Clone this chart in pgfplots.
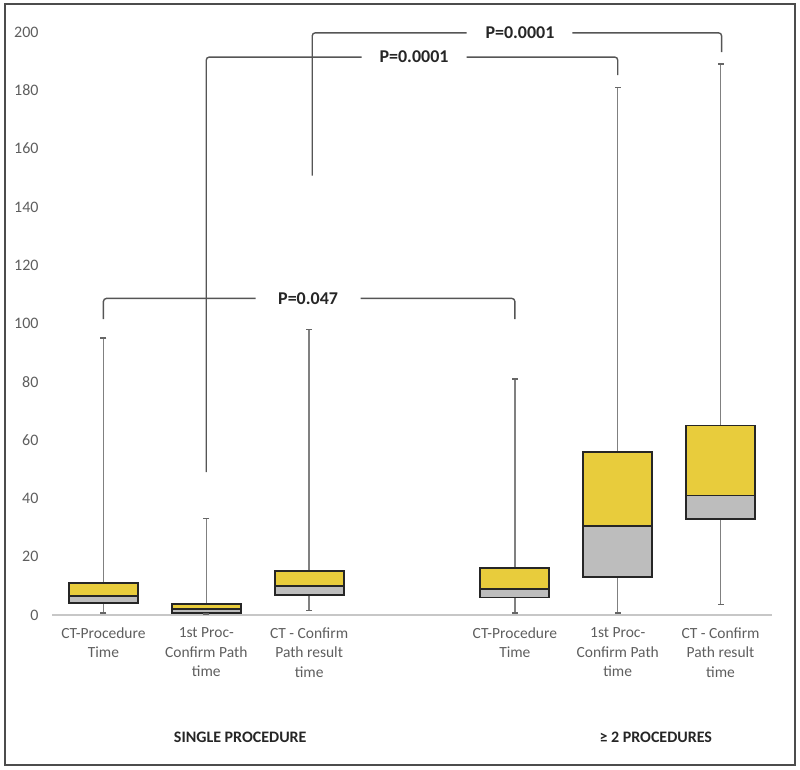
\documentclass[border=0pt]{standalone}
\usepackage{fontspec}
\setmainfont{Carlito}
\usepackage{pgfplots}
\pgfplotsset{compat=1.18}
\definecolor{boxyellow}{HTML}{E8CC3C}
\definecolor{boxgray}{HTML}{BDBDBD}
\definecolor{whisk}{HTML}{808080}
\definecolor{brk}{HTML}{555555}
\definecolor{lbl}{HTML}{5E5E5E}
\definecolor{boxline}{HTML}{262626}

\pgfplotsset{
  whisker/.style={draw=whisk, line width=1.5pt, mark=-, mark size=3pt, mark options={solid, draw=whisk!80!black, line width=1.3pt}},
  graybox/.style={draw=boxline, fill=boxgray, line width=1.9pt, line join=miter},
  yellowbox/.style={draw=boxline, fill=boxyellow, line width=1.9pt, line join=miter},
}

\begin{document}
\begin{tikzpicture}
\useasboundingbox (0pt,0pt) rectangle (800pt,770pt);
\draw[line width=1.8pt, color=black!70] (5pt,5pt) rectangle (795pt,766pt);
\begin{axis}[
  at={(52pt,155pt)}, anchor=south west,
  scale only axis, width=720pt, height=583pt,
  xmin=0.5, xmax=7.5, ymin=0, ymax=200,
  clip=false,
  axis x line*=bottom, axis y line*=left,
  x axis line style={draw=black!22, line width=1.4pt, -},
  y axis line style={draw=none},
  major tick length=0pt,
  ytick={0,20,40,60,80,100,120,140,160,180,200},
  xtick={1,2,3,5,6,7},
  xticklabels={{CT-Procedure\\Time},{1st Proc-\\Confirm Path\\time},{CT - Confirm\\Path result\\time},
               {CT-Procedure\\Time},{1st Proc-\\Confirm Path\\time},{CT - Confirm\\Path result\\time}},
  /pgf/number format/assume math mode=true,
  yticklabel style={font=\fontsize{16}{18}\selectfont, text=lbl, xshift=-10pt},
  xticklabel style={font=\fontsize{15.5}{19.5}\selectfont, text=lbl, align=center, yshift=-9pt},
]
% whiskers: (position, lower whisker) (position, upper whisker)
\addplot[whisker] coordinates {(1,0.7) (1,95)};
\addplot[whisker] coordinates {(2,0.3) (2,33)};
\addplot[whisker] coordinates {(3,1.6) (3,98)};
\addplot[whisker] coordinates {(5,0.7) (5,81)};
\addplot[whisker] coordinates {(6,0.7) (6,181)};
\addplot[whisker] coordinates {(7,3.6) (7,189)};

% boxes: gray Q1..median, yellow median..Q3
\addplot[graybox] coordinates {(0.665,4) (1.335,4) (1.335,6.5) (0.665,6.5)} -- cycle;
\addplot[yellowbox] coordinates {(0.665,6.5) (1.335,6.5) (1.335,11) (0.665,11)} -- cycle;
\addplot[graybox] coordinates {(1.665,0.8) (2.335,0.8) (2.335,2) (1.665,2)} -- cycle;
\addplot[yellowbox] coordinates {(1.665,2) (2.335,2) (2.335,3.8) (1.665,3.8)} -- cycle;
\addplot[graybox] coordinates {(2.665,7) (3.335,7) (3.335,10) (2.665,10)} -- cycle;
\addplot[yellowbox] coordinates {(2.665,10) (3.335,10) (3.335,15) (2.665,15)} -- cycle;
\addplot[graybox] coordinates {(4.665,6) (5.335,6) (5.335,9) (4.665,9)} -- cycle;
\addplot[yellowbox] coordinates {(4.665,9) (5.335,9) (5.335,16) (4.665,16)} -- cycle;
\addplot[graybox] coordinates {(5.665,13) (6.335,13) (6.335,30.5) (5.665,30.5)} -- cycle;
\addplot[yellowbox] coordinates {(5.665,30.5) (6.335,30.5) (6.335,56) (5.665,56)} -- cycle;
\addplot[graybox] coordinates {(6.665,33) (7.335,33) (7.335,41) (6.665,41)} -- cycle;
\addplot[yellowbox] coordinates {(6.665,41) (7.335,41) (7.335,65) (6.665,65)} -- cycle;

% significance brackets
\draw[brk, line width=1.4pt, rounded corners=3pt] (axis cs:1,101.5) -- (axis cs:1,108.6) -- (axis cs:2.48,108.6);
\draw[brk, line width=1.4pt, rounded corners=3pt] (axis cs:3.5,108.6) -- (axis cs:5,108.6) -- (axis cs:5,101.5);
\node[font=\bfseries\fontsize{18}{20}\selectfont, text=black!85] at (axis cs:2.99,108.6) {P=0.047};

\draw[brk, line width=1.4pt, rounded corners=3pt] (axis cs:2,49) -- (axis cs:2,191.4) -- (axis cs:3.51,191.4);
\draw[brk, line width=1.4pt, rounded corners=3pt] (axis cs:4.53,191.4) -- (axis cs:6,191.4) -- (axis cs:6,185.2);
\node[font=\bfseries\fontsize{18}{20}\selectfont, text=black!85] at (axis cs:4.02,191.4) {P=0.0001};

\draw[brk, line width=1.4pt, rounded corners=3pt] (axis cs:3.03,150.7) -- (axis cs:3.03,199.7) -- (axis cs:4.53,199.7);
\draw[brk, line width=1.4pt, rounded corners=3pt] (axis cs:5.56,199.7) -- (axis cs:7.01,199.7) -- (axis cs:7.01,193.1);
\node[font=\bfseries\fontsize{18}{20}\selectfont, text=black!85] at (axis cs:5.05,199.7) {P=0.0001};

\node[font=\bfseries\fontsize{16}{18}\selectfont, text=black!85] at (axis cs:2.33,-41.9) {SINGLE PROCEDURE};
\node[font=\bfseries\fontsize{16}{18}\selectfont, text=black!85] at (axis cs:6.37,-41.9) {≥ 2 PROCEDURES};
\end{axis}
\end{tikzpicture}
\end{document}
